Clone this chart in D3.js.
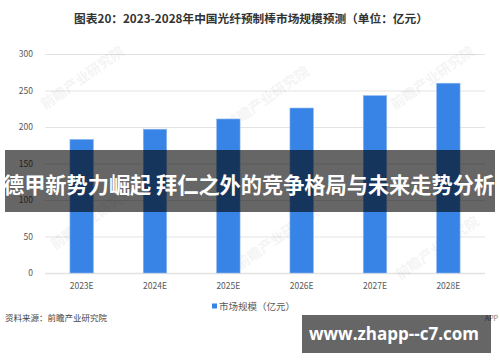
<!DOCTYPE html>
<html>
<head>
<meta charset="utf-8">
<script src="https://cdn.jsdelivr.net/npm/d3@7"></script>
<style>
  body { margin: 0; background: #fff; }
  svg { display: block; font-family: "Noto Sans CJK SC", "Noto Sans", sans-serif; }
</style>
</head>
<body>
<div id="chart"></div>
<script>
// data
var years = ["2023E", "2024E", "2025E", "2026E", "2027E", "2028E"];
var marketSize = [183, 197, 211, 226, 243, 260];
var yTicks = [0, 50, 100, 150, 200, 250, 300];

var title = "图表20：2023-2028年中国光纤预制棒市场规模预测（单位：亿元）";
var legendLabel = "市场规模（亿元）";
var sourceText = "资料来源：前瞻产业研究院";
var bannerText = "德甲新势力崛起 拜仁之外的竞争格局与未来走势分析";
var siteText = "www.zhapp--c7.com";

var width = 500, height = 362;
var barcolor = "#3784e6";
var gridcolor = "#e3e3e3";
var labelcolor = "#595959";

var svg = d3.select("#chart").append("svg")
  .attr("width", width)
  .attr("height", height);

var x = d3.scaleBand().domain(years).range([45, 485]).paddingInner(0.68).paddingOuter(0.34);
var y = d3.scaleLinear().domain([0, 300]).range([273, 54]);

// title
svg.append("text")
  .attr("x", 251).attr("y", 23)
  .attr("text-anchor", "middle")
  .style("font-size", "11.7px").style("font-weight", "bold")
  .style("fill", "#333")
  .text(title);

// gridlines
svg.append("g").selectAll("line")
  .data(yTicks)
  .enter().append("line")
  .attr("x1", 45).attr("x2", 485)
  .attr("y1", function(d) { return y(d) + 0.5; })
  .attr("y2", function(d) { return y(d) + 0.5; })
  .style("stroke", gridcolor)
  .style("stroke-width", function(d) { return d == 0 ? 1.5 : 1; });

// y axis labels
svg.append("g").selectAll("text")
  .data(yTicks)
  .enter().append("text")
  .attr("x", 33)
  .attr("y", function(d) { return y(d) + 3; })
  .attr("text-anchor", "end")
  .style("font-size", "8.5px")
  .style("fill", labelcolor)
  .text(function(d) { return d; });

// watermarks
var marks = [[45, 110], [55, 250], [230, 130], [240, 270], [395, 110], [400, 280]];
svg.append("g").selectAll("text")
  .data(marks)
  .enter().append("text")
  .attr("transform", function(d) { return "translate(" + d[0] + "," + d[1] + ") rotate(-35)"; })
  .style("font-size", "14px").style("font-weight", "bold")
  .style("fill", "#000").style("opacity", 0.04)
  .text("前瞻产业研究院");

// bars
svg.append("g").selectAll("rect")
  .data(marketSize)
  .enter().append("rect")
  .attr("x", function(d, i) { return x(years[i]); })
  .attr("y", function(d) { return y(d); })
  .attr("width", x.bandwidth())
  .attr("height", function(d) { return y(0) - y(d); })
  .style("fill", barcolor)
  .style("stroke", "#8fb9f0")
  .style("stroke-width", 0.6);

// x labels
svg.append("g").selectAll("text")
  .data(years)
  .enter().append("text")
  .attr("x", function(d) { return x(d) + x.bandwidth() / 2; })
  .attr("y", 289)
  .attr("text-anchor", "middle")
  .style("font-size", "8.5px")
  .style("fill", labelcolor)
  .text(function(d) { return d; });

// legend
svg.append("rect")
  .attr("x", 212).attr("y", 303.5)
  .attr("width", 5).attr("height", 5)
  .style("fill", barcolor);
svg.append("text")
  .attr("x", 219).attr("y", 310)
  .style("font-size", "9.5px")
  .style("fill", labelcolor)
  .text(legendLabel);

// source
svg.append("text")
  .attr("x", 5).attr("y", 321)
  .style("font-size", "8.5px")
  .style("fill", "#444")
  .text(sourceText);

svg.append("text")
  .attr("x", 498).attr("y", 321)
  .attr("text-anchor", "end")
  .style("font-size", "7px")
  .style("fill", "#777")
  .text("APP");

// banner overlay
svg.append("rect")
  .attr("x", 5).attr("y", 150)
  .attr("width", 490).attr("height", 62)
  .style("fill", "rgba(0,0,0,0.6)");
svg.append("text")
  .attr("x", 249).attr("y", 193)
  .attr("text-anchor", "middle")
  .style("font-size", "21.2px").style("font-weight", "bold")
  .style("fill", "#fff")
  .text(bannerText);

// site box
svg.append("rect")
  .attr("x", 302).attr("y", 315)
  .attr("width", 189).attr("height", 38)
  .style("fill", "rgba(0,0,0,0.6)");
svg.append("text")
  .attr("x", 394).attr("y", 340)
  .attr("text-anchor", "middle")
  .style("font-family", "'Open Sans', 'DejaVu Sans', sans-serif")
  .style("font-size", "17px").style("font-weight", "bold")
  .style("fill", "#fff")
  .text(siteText);
</script>
</body>
</html>
